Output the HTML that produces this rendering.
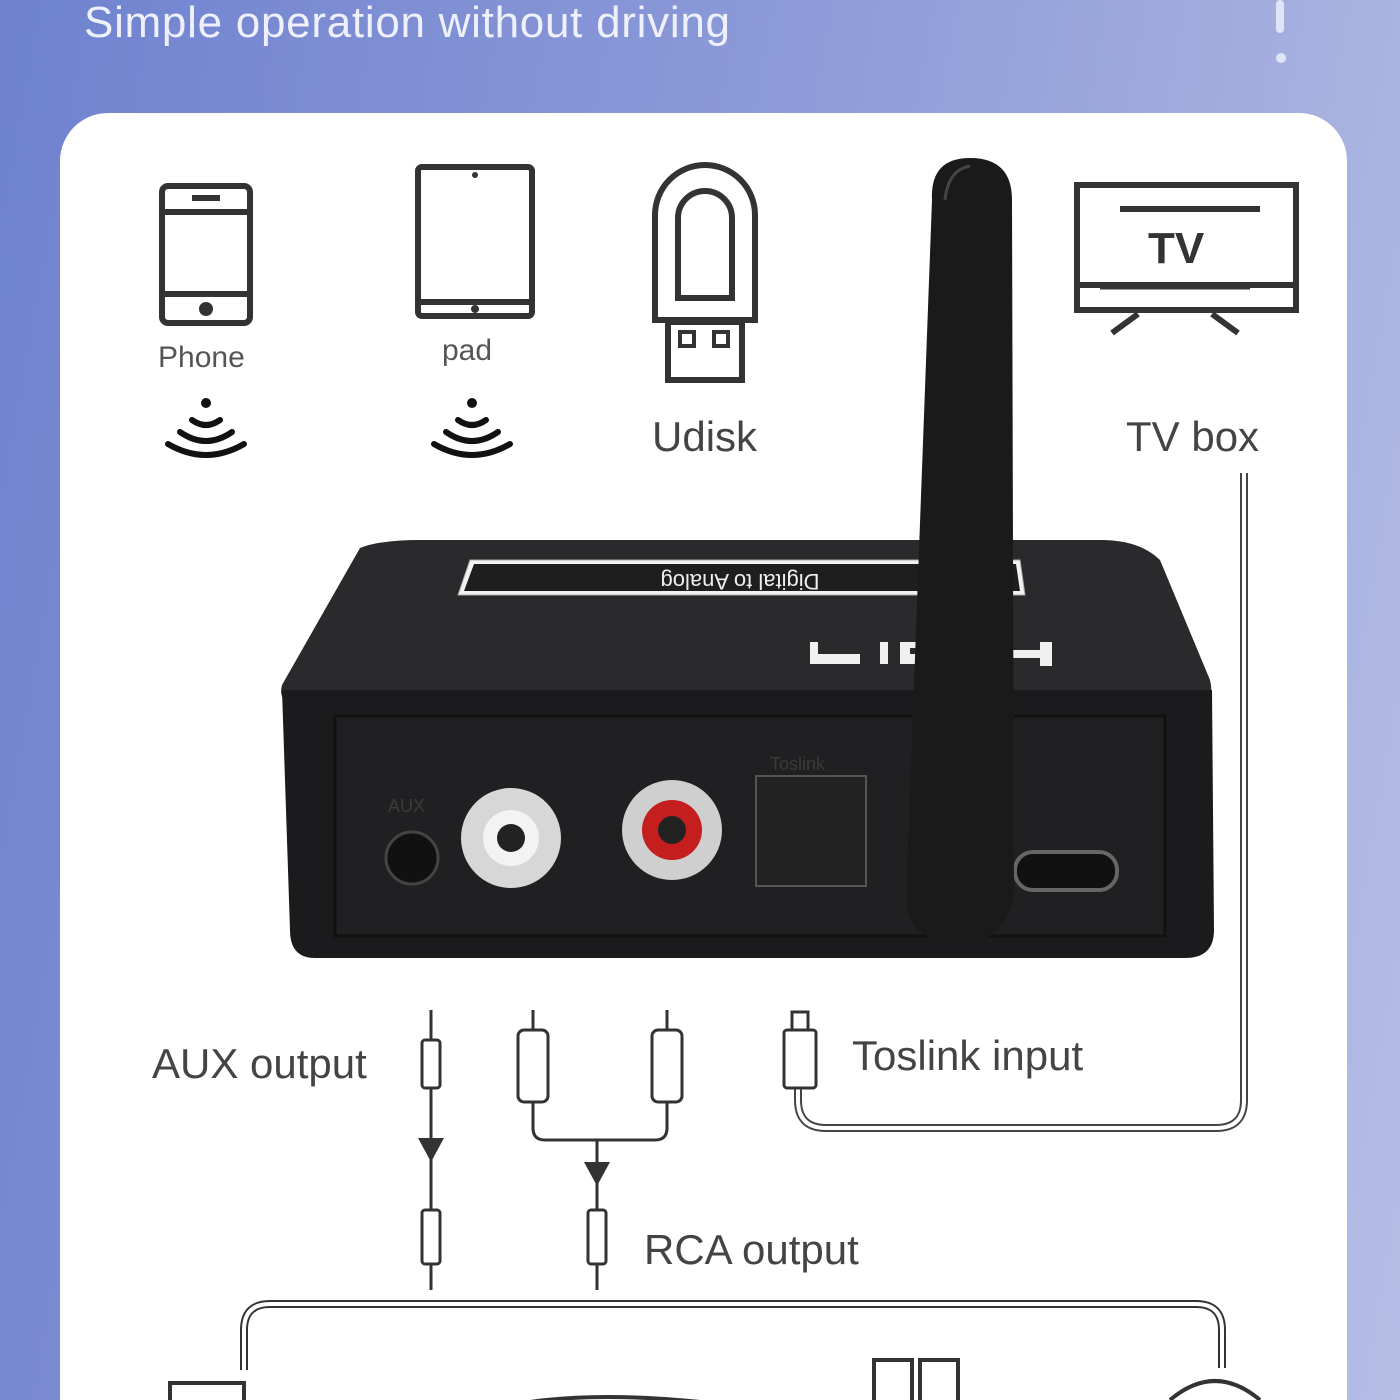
<!DOCTYPE html>
<html><head><meta charset="utf-8"><style>
html,body{margin:0;padding:0;width:1400px;height:1400px;overflow:hidden}
body{background:linear-gradient(100deg,#6f82cf 0%,#8d9bd8 50%,#b5bee5 100%);font-family:"Liberation Sans",sans-serif}
svg{display:block}
</style></head><body>
<svg width="1400" height="1400" viewBox="0 0 1400 1400" xmlns="http://www.w3.org/2000/svg" style="position:absolute;left:0;top:0;overflow:hidden">
<text x="84" y="37" font-size="44" fill="#eef0fb" font-family="Liberation Sans" textLength="646">Simple operation without driving</text>
<rect x="1276" y="0" width="8" height="33" rx="4" fill="#dfe5f6"/>
<circle cx="1281" cy="58" r="5" fill="#dfe5f6"/>
<path d="M60 1400 V161 a48 48 0 0 1 48 -48 H1299 a48 48 0 0 1 48 48 V1400 Z" fill="#fff"/>
<g fill="none" stroke="#333" stroke-width="6">
<rect x="162" y="186" width="88" height="137" rx="6"/>
<line x1="162" y1="212" x2="250" y2="212"/><line x1="162" y1="294" x2="250" y2="294"/>
<line x1="192" y1="198" x2="220" y2="198"/>
<rect x="418" y="167" width="114" height="149" rx="4"/>
<line x1="418" y1="302" x2="532" y2="302"/>
<path d="M655 320 V215 a50 50 0 0 1 100 0 V320 Z"/>
<path d="M678 298 V218 a27 27 0 0 1 54 0 V298 Z"/>
<rect x="668" y="322" width="74" height="58"/>
<rect x="1077" y="185" width="219" height="125"/>
<line x1="1077" y1="285" x2="1296" y2="285"/>
<line x1="1138" y1="314" x2="1112" y2="333"/><line x1="1212" y1="314" x2="1238" y2="333"/>
</g>
<circle cx="206" cy="309" r="7" fill="#333"/>
<circle cx="475" cy="309" r="4" fill="#333"/>
<circle cx="475" cy="175" r="3" fill="#333"/>
<rect x="680" y="332" width="14" height="14" fill="none" stroke="#333" stroke-width="4"/>
<rect x="714" y="332" width="14" height="14" fill="none" stroke="#333" stroke-width="4"/>
<line x1="1120" y1="209" x2="1260" y2="209" stroke="#333" stroke-width="6"/>
<line x1="1100" y1="287" x2="1250" y2="287" stroke="#333" stroke-width="5"/>
<text x="1148" y="263" font-size="44" font-weight="bold" fill="#333">TV</text>
<text x="158" y="367" font-size="30" fill="#555">Phone</text>
<text x="442" y="360" font-size="30" fill="#555">pad</text>
<text x="652" y="451" font-size="42" fill="#444">Udisk</text>
<text x="1126" y="451" font-size="42" fill="#444">TV box</text>
<g fill="none" stroke="#111" stroke-width="6" stroke-linecap="round">
<path d="M192 420 q14 10 28 0"/><path d="M180 432 q26 18 52 0"/><path d="M168 444 q38 22 76 0"/>
<path d="M458 420 q14 10 28 0"/><path d="M446 432 q26 18 52 0"/><path d="M434 444 q38 22 76 0"/>
</g>
<circle cx="206" cy="403" r="5" fill="#111"/><circle cx="472" cy="403" r="5" fill="#111"/>
<path d="M1244 473 V1100 q0 28 -28 28 H826 q-28 0 -28 -28 V1085" fill="none" stroke="#444" stroke-width="8"/>
<path d="M1244 473 V1100 q0 28 -28 28 H826 q-28 0 -28 -28 V1085" fill="none" stroke="#fff" stroke-width="4"/>
<path d="M360 548 Q380 540 420 540 H1100 Q1140 540 1160 560 L1210 680 Q1215 700 1200 706 H292 Q278 700 282 685 Z" fill="#2a2a2c"/>
<path d="M282 690 H1212 L1214 930 Q1214 958 1185 958 H315 Q290 958 290 930 Z" fill="#1b1b1d"/>
<rect x="335" y="716" width="830" height="220" fill="#202022" stroke="#111" stroke-width="3"/>
<polygon points="470,560 1020,560 1025,595 458,595" fill="#f2f2f2" stroke="#aaa"/>
<polygon points="474,564 1016,564 1020,591 464,591" fill="#1e1e1e"/>
<text x="740" y="588" font-size="22" fill="#eee" text-anchor="middle" transform="rotate(180 740 581)">Digital to Analog</text>
<g fill="#f0f0f0">
<rect x="810" y="654" width="50" height="10"/><rect x="810" y="642" width="8" height="22"/>
<rect x="880" y="642" width="8" height="22"/><rect x="900" y="642" width="10" height="22"/><rect x="900" y="654" width="40" height="10"/><rect x="900" y="642" width="40" height="6"/>
<rect x="1040" y="642" width="12" height="24"/><rect x="1000" y="650" width="52" height="8"/><rect x="1000" y="642" width="10" height="24"/>
</g>
<circle cx="412" cy="858" r="26" fill="#111" stroke="#444" stroke-width="3"/>
<circle cx="511" cy="838" r="50" fill="#d7d7d7"/><circle cx="511" cy="838" r="28" fill="#f3f3f3"/><circle cx="511" cy="838" r="14" fill="#222"/>
<circle cx="672" cy="830" r="50" fill="#cfcfcf"/><circle cx="672" cy="830" r="30" fill="#c41e1e"/><circle cx="672" cy="830" r="14" fill="#222"/>
<rect x="756" y="776" width="110" height="110" fill="#222" stroke="#555" stroke-width="2"/>
<rect x="1015" y="852" width="102" height="38" rx="18" fill="#111" stroke="#666" stroke-width="4"/>
<text x="388" y="812" font-size="18" fill="#3a3a3a">AUX</text>
<text x="770" y="770" font-size="18" fill="#3a3a3a">Toslink</text>
<path d="M932 200 Q930 158 970 158 Q1012 158 1012 200 L1014 900 Q1000 945 958 945 Q908 940 906 900 Z" fill="#1a1a1a"/>
<path d="M945 200 Q948 170 970 166" fill="none" stroke="#444" stroke-width="3"/>
<text x="152" y="1078" font-size="42" fill="#444">AUX output</text>
<text x="852" y="1070" font-size="42" fill="#444">Toslink input</text>
<text x="644" y="1264" font-size="42" fill="#444">RCA output</text>
<g fill="none" stroke="#333" stroke-width="3">
<line x1="431" y1="1010" x2="431" y2="1290"/>
<rect x="422" y="1040" width="18" height="48" rx="3" fill="#fff"/>
<rect x="422" y="1210" width="18" height="54" rx="3" fill="#fff"/>
<rect x="518" y="1030" width="30" height="72" rx="6" fill="#fff"/>
<rect x="652" y="1030" width="30" height="72" rx="6" fill="#fff"/>
<line x1="533" y1="1010" x2="533" y2="1030"/><line x1="667" y1="1010" x2="667" y2="1030"/>
<path d="M533 1102 V1128 q0 12 12 12 H655 q12 0 12 -12 V1102"/>
<line x1="597" y1="1140" x2="597" y2="1290"/>
<rect x="588" y="1210" width="18" height="54" rx="3" fill="#fff"/>
<rect x="784" y="1030" width="32" height="58" rx="3" fill="#fff"/>
<rect x="792" y="1012" width="16" height="18" fill="#fff"/>
<path d="M244 1370 V1330 q0 -26 26 -26 H1196 q26 0 26 26 V1368" stroke-width="8"/>
</g>
<path d="M244 1370 V1330 q0 -26 26 -26 H1196 q26 0 26 26 V1368" fill="none" stroke="#fff" stroke-width="4"/>
<polygon points="418,1138 444,1138 431,1162" fill="#333"/>
<polygon points="584,1162 610,1162 597,1186" fill="#333"/>
<g fill="none" stroke="#333" stroke-width="4">
<rect x="170" y="1383" width="74" height="30"/>
<rect x="874" y="1360" width="38" height="50"/><rect x="920" y="1360" width="38" height="50"/>
<path d="M1170 1400 q45 -38 90 0"/>
<path d="M530 1402 q70 -10 170 0"/>
</g>
</svg>
</body></html>
